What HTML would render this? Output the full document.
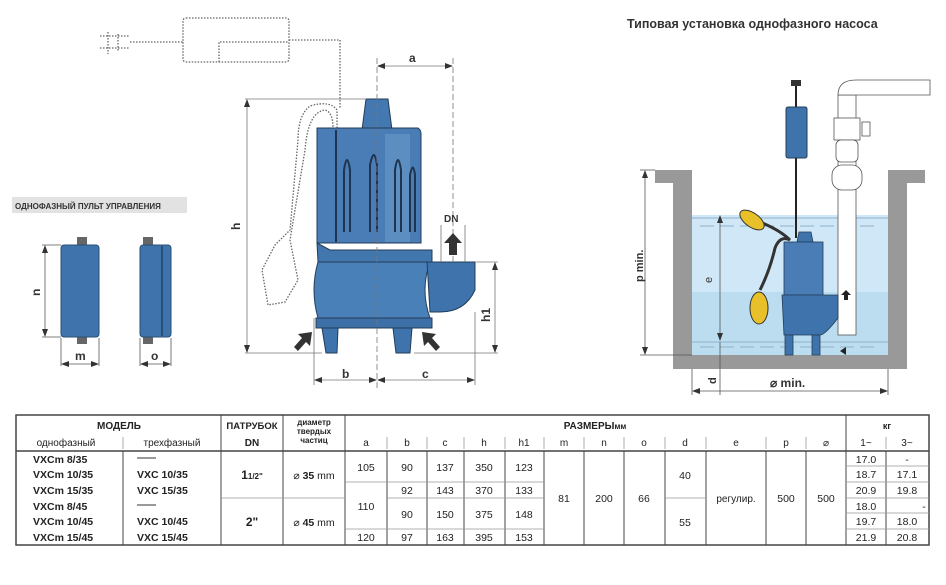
<!DOCTYPE html>
<html><head><meta charset="utf-8">
<style>
html,body{margin:0;padding:0;background:#fff;}
svg{display:block;font-family:"Liberation Sans","Noto Sans CJK SC",sans-serif;}
</style></head>
<body>
<svg width="946" height="585" viewBox="0 0 946 585" xmlns="http://www.w3.org/2000/svg">
<defs>
<marker id="ar" markerWidth="8" markerHeight="8" refX="7" refY="4" orient="auto-start-reverse" markerUnits="userSpaceOnUse"><path d="M0,1 L8,4 L0,7 z" fill="#333"/></marker>
</defs>
<!-- title -->
<text x="627" y="28" font-size="12.5" font-weight="bold" fill="#333">Типовая установка однофазного насоса</text>

<!-- dotted control box & cable -->
<g fill="none" stroke="#666" stroke-width="1.3" stroke-dasharray="1.5,1.5">
<rect x="183" y="18" width="106" height="44" rx="3"/>
<path d="M219 62 V42 H289"/>
<path d="M100 36 h30 M100 48 h30 M108 32 v22 M118 34 v18"/>
<path d="M130 42 H183"/>
<path d="M289 40 H340 V108"/>
<path d="M337 128 V110 Q330 100 310 106 Q298 115 298 140 L290 230 L275 245 L262 270 L268 305 L285 302 L298 280 L290 240 L305 150 Q308 112 325 110 Q333 112 333 128"/>
</g>

<!-- label -->
<rect x="12" y="197" width="175" height="16" fill="#e2e2e2"/>
<text x="15" y="209" font-size="8" font-weight="bold" fill="#333">ОДНОФАЗНЫЙ ПУЛЬТ УПРАВЛЕНИЯ</text>

<!-- control boxes -->
<rect x="77" y="237" width="10" height="8" fill="#666"/>
<rect x="77" y="337" width="10" height="7" fill="#666"/>
<rect x="61" y="245" width="38" height="92" rx="3" fill="#3e74ab" stroke="#2a4f75"/>
<rect x="143" y="237" width="10" height="8" fill="#666"/>
<rect x="143" y="337" width="10" height="7" fill="#666"/>
<rect x="140" y="245" width="31" height="92" rx="3" fill="#3e74ab" stroke="#2a4f75"/>
<line x1="162" y1="246" x2="162" y2="336" stroke="#2a4f75" stroke-width="2"/>
<g stroke="#555" stroke-width="0.8" fill="none">
<line x1="42" y1="245" x2="61" y2="245"/><line x1="42" y1="337" x2="61" y2="337"/>
<line x1="45" y1="246" x2="45" y2="336" marker-start="url(#ar)" marker-end="url(#ar)"/>
<line x1="61" y1="338" x2="61" y2="366"/><line x1="99" y1="338" x2="99" y2="366"/>
<line x1="62" y1="364" x2="98" y2="364" marker-start="url(#ar)" marker-end="url(#ar)"/>
<line x1="140" y1="338" x2="140" y2="366"/><line x1="171" y1="338" x2="171" y2="366"/>
<line x1="141" y1="364" x2="170" y2="364" marker-start="url(#ar)" marker-end="url(#ar)"/>
</g>
<text x="40" y="296" font-size="12" font-weight="bold" transform="rotate(-90 40 296)" fill="#333">n</text>
<text x="75" y="360" font-size="12" font-weight="bold" fill="#333">m</text>
<text x="151" y="360" font-size="12" font-weight="bold" fill="#333">o</text>

<!-- main pump -->
<g stroke="#233c58" stroke-width="1">
<path d="M366 99 H388 L392 130 H362 Z" fill="#4478b0"/>
<path d="M317 128 H418 Q421 130 421 134 V243 H317 Z" fill="#4a7db5"/>
<path d="M317 243 L330 250 H432 V262 H318 Z" fill="#4277ae"/>
<path d="M318 262 H430 Q420 290 430 318 H318 Q310 290 318 262 Z" fill="#4a80b8"/>
<path d="M427 262 H475 V290 Q465 312 440 312 L430 312 Z" fill="#3e74ab"/>
<rect x="316" y="318" width="116" height="10" fill="#3c70a6"/>
<path d="M322 328 H338 L337 353 H326 Z" fill="#3e74ab"/>
<path d="M393 328 H412 L410 353 H396 Z" fill="#3e74ab"/>
</g>
<rect x="385" y="134" width="25" height="108" fill="#6f9fce" opacity="0.5"/>
<g stroke="#1e3450" stroke-width="2" fill="none">
<path d="M344 232 V170 Q347 150 350 170 V232"/>
<path d="M370 232 V165 Q374 145 377 165 V232"/>
<path d="M395 232 V170 Q398 150 401 170 V232"/>
<path d="M410 232 V175 Q413 160 415 175 V232"/>
<line x1="336" y1="130" x2="336" y2="242"/>
</g>
<!-- dims -->
<g stroke="#777" stroke-width="0.8" fill="none">
<line x1="377" y1="58" x2="377" y2="390" stroke-dasharray="6,3"/>
<line x1="453" y1="58" x2="453" y2="262" stroke-dasharray="6,3"/>
<line x1="378" y1="66" x2="452" y2="66" marker-start="url(#ar)" marker-end="url(#ar)"/>
<line x1="245" y1="99" x2="365" y2="99"/><line x1="245" y1="353" x2="322" y2="353"/>
<line x1="247" y1="100" x2="247" y2="352" marker-start="url(#ar)" marker-end="url(#ar)"/>
<line x1="314" y1="318" x2="314" y2="385"/><line x1="475" y1="312" x2="475" y2="385"/>
<line x1="315" y1="380" x2="376" y2="380" marker-start="url(#ar)" marker-end="url(#ar)"/>
<line x1="378" y1="380" x2="474" y2="380" marker-start="url(#ar)" marker-end="url(#ar)"/>
<line x1="476" y1="262" x2="498" y2="262"/><line x1="414" y1="353" x2="498" y2="353"/>
<line x1="495" y1="263" x2="495" y2="352" marker-start="url(#ar)" marker-end="url(#ar)"/>
<line x1="441" y1="225" x2="441" y2="262"/><line x1="465" y1="225" x2="465" y2="262"/>
</g>
<text x="409" y="62" font-size="12" font-weight="bold" fill="#333">a</text>
<text x="240" y="230" font-size="12" font-weight="bold" transform="rotate(-90 240 230)" fill="#333">h</text>
<text x="342" y="378" font-size="12" font-weight="bold" fill="#333">b</text>
<text x="422" y="378" font-size="12" font-weight="bold" fill="#333">c</text>
<text x="490" y="322" font-size="12" font-weight="bold" transform="rotate(-90 490 322)" fill="#333">h1</text>
<text x="444" y="222" font-size="10" font-weight="bold" fill="#333">DN</text>
<path d="M453 233 L462 243 H457 V255 H449 V243 H444 Z" fill="#333"/>
<!-- inlet arrows -->
<path d="M312 332 L310 346 L306 342 L298 351 L294 347 L302 338 L298 334 Z" fill="#333"/>
<path d="M422 332 L424 346 L428 342 L436 351 L440 347 L432 338 L436 334 Z" fill="#333"/>

<!-- right installation -->
<rect x="692" y="215" width="196" height="140" fill="#cfe7f6"/>
<rect x="692" y="292" width="196" height="63" fill="#bcdcef"/>
<g stroke="#8fb2c9" stroke-width="1">
<line x1="692" y1="218" x2="888" y2="218"/><line x1="700" y1="226" x2="880" y2="226" stroke-dasharray="14,6"/>
<line x1="692" y1="342" x2="888" y2="342"/><line x1="700" y1="347" x2="880" y2="347" stroke-dasharray="14,6"/>
</g>
<path d="M655 170 H692 V355 H888 V170 H925 V183 H907 V369 H673 V183 H655 Z" fill="#999"/>
<!-- pipe -->
<g fill="#fff" stroke="#555" stroke-width="0.8">
<rect x="838" y="95" width="18" height="240"/>
<path d="M838 95 Q838 80 856 80 H930 V95 H856 Z"/>
<rect x="834" y="118" width="26" height="22"/>
<rect x="836" y="140" width="22" height="22" rx="5"/>
<rect x="832" y="165" width="30" height="25" rx="10"/>
<rect x="862" y="122" width="8" height="14"/>
</g>
<!-- control box -->
<line x1="796" y1="158" x2="796" y2="238" stroke="#222" stroke-width="2"/>
<line x1="796" y1="85" x2="796" y2="107" stroke="#222" stroke-width="2"/>
<path d="M791 80 h10 v6 h-10z" fill="#333"/>
<rect x="786" y="107" width="21" height="51" rx="2" fill="#3e74ab" stroke="#233c58"/>
<!-- small pump -->
<g stroke="#233c58" stroke-width="0.8">
<path d="M799 232 H811 L813 242 H797 Z" fill="#3e74ab"/>
<rect x="784" y="242" width="39" height="53" fill="#4a7db5"/>
<path d="M782 295 H838 V318 Q825 335 820 335 H784 Z" fill="#3e74ab"/>
<rect x="785" y="335" width="8" height="20" fill="#3e74ab"/>
<rect x="812" y="335" width="8" height="20" fill="#3e74ab"/>
</g>
<path d="M790 240 Q780 235 775 248 Q770 270 760 290" stroke="#333" stroke-width="3" fill="none"/>
<path d="M790 240 Q780 230 760 222" stroke="#333" stroke-width="3" fill="none"/>
<ellipse cx="752" cy="220" rx="14" ry="7" transform="rotate(35 752 220)" fill="#e8c02a" stroke="#333"/>
<ellipse cx="759" cy="308" rx="9" ry="16" fill="#e8c02a" stroke="#333"/>
<path d="M846 290 l5 5 h-3 v5 h-4 v-5 h-3z M846 347 l-6 4 l6 4z" fill="#222"/>
<!-- right dims -->
<g stroke="#555" stroke-width="0.8" fill="none">
<line x1="640" y1="170" x2="655" y2="170"/><line x1="640" y1="355" x2="692" y2="355"/>
<line x1="645" y1="171" x2="645" y2="354" marker-start="url(#ar)" marker-end="url(#ar)"/>
<line x1="720" y1="216" x2="720" y2="340" marker-start="url(#ar)" marker-end="url(#ar)"/>
<line x1="720" y1="342" x2="720" y2="395"/>
<line x1="692" y1="369" x2="692" y2="395"/><line x1="888" y1="369" x2="888" y2="395"/>
<line x1="693" y1="391" x2="887" y2="391" marker-start="url(#ar)" marker-end="url(#ar)"/>
</g>
<text x="643" y="282" font-size="11" font-weight="bold" transform="rotate(-90 643 282)" fill="#333">p min.</text>
<text x="712" y="283" font-size="11" transform="rotate(-90 712 283)" fill="#333">e</text>
<text x="716" y="384" font-size="11" font-weight="bold" transform="rotate(-90 716 384)" fill="#333">d</text>
<text x="770" y="387" font-size="12" font-weight="bold" fill="#333">⌀  min.</text>

<!-- table -->
<g stroke="#444" fill="none">
<rect x="16" y="415" width="913" height="130" stroke-width="1.5"/>
<line x1="16" y1="451" x2="929" y2="451" stroke-width="1.5"/>
<g stroke-width="1">
<line x1="221" y1="415" x2="221" y2="545"/><line x1="283" y1="415" x2="283" y2="545"/>
<line x1="345" y1="415" x2="345" y2="545"/><line x1="846" y1="415" x2="846" y2="545"/>
<line x1="123" y1="451" x2="123" y2="545"/>
<line x1="387" y1="451" x2="387" y2="545"/><line x1="427" y1="451" x2="427" y2="545"/>
<line x1="464" y1="451" x2="464" y2="545"/><line x1="505" y1="451" x2="505" y2="545"/>
<line x1="544" y1="451" x2="544" y2="545"/><line x1="584" y1="451" x2="584" y2="545"/>
<line x1="624" y1="451" x2="624" y2="545"/><line x1="665" y1="451" x2="665" y2="545"/>
<line x1="706" y1="451" x2="706" y2="545"/><line x1="766" y1="451" x2="766" y2="545"/>
<line x1="806" y1="451" x2="806" y2="545"/><line x1="886" y1="451" x2="886" y2="545"/>
</g>
<g stroke-width="0.8" stroke="#999">
<line x1="123" y1="437" x2="123" y2="449"/>
<line x1="387" y1="437" x2="387" y2="449"/><line x1="427" y1="437" x2="427" y2="449"/>
<line x1="464" y1="437" x2="464" y2="449"/><line x1="505" y1="437" x2="505" y2="449"/>
<line x1="544" y1="437" x2="544" y2="449"/><line x1="584" y1="437" x2="584" y2="449"/>
<line x1="624" y1="437" x2="624" y2="449"/><line x1="665" y1="437" x2="665" y2="449"/>
<line x1="706" y1="437" x2="706" y2="449"/><line x1="766" y1="437" x2="766" y2="449"/>
<line x1="806" y1="437" x2="806" y2="449"/><line x1="886" y1="437" x2="886" y2="449"/>
<line x1="221" y1="498" x2="345" y2="498"/>
<line x1="345" y1="482" x2="387" y2="482"/><line x1="345" y1="529" x2="387" y2="529"/>
<line x1="387" y1="482" x2="544" y2="482"/><line x1="387" y1="498" x2="544" y2="498"/><line x1="387" y1="529" x2="544" y2="529"/>
<line x1="665" y1="498" x2="706" y2="498"/>
<line x1="846" y1="466" x2="929" y2="466"/><line x1="846" y1="482" x2="929" y2="482"/>
<line x1="846" y1="498" x2="929" y2="498"/><line x1="846" y1="513" x2="929" y2="513"/>
<line x1="846" y1="529" x2="929" y2="529"/>
</g>
</g>
<g font-size="10" fill="#222" text-anchor="middle">
<text x="119" y="429" font-weight="bold">МОДЕЛЬ</text>
<text x="66" y="446">однофазный</text><text x="172" y="446">трехфазный</text>
<text x="252" y="429" font-weight="bold" font-size="9.5">ПАТРУБОК</text>
<text x="252" y="446" font-weight="bold">DN</text>
<text x="314" y="425" font-weight="bold" font-size="8">диаметр</text>
<text x="314" y="434" font-weight="bold" font-size="8">твердых</text>
<text x="314" y="443" font-weight="bold" font-size="8">частиц</text>
<text x="595" y="429" font-weight="bold">РАЗМЕРЫ<tspan font-size="8">мм</tspan></text>
<text x="887" y="429" font-weight="bold" font-size="9">кг</text>
<text x="366" y="446">a</text><text x="407" y="446">b</text><text x="445" y="446">c</text>
<text x="484" y="446">h</text><text x="524" y="446">h1</text><text x="564" y="446">m</text>
<text x="604" y="446">n</text><text x="644" y="446">o</text><text x="685" y="446">d</text>
<text x="736" y="446">e</text><text x="786" y="446">p</text><text x="826" y="446">⌀</text>
<text x="866" y="446">1~</text><text x="907" y="446">3~</text>
</g>
<g font-size="10.5" fill="#222" font-weight="bold">
<text x="33" y="463">VXCm 8/35</text><text x="33" y="478">VXCm 10/35</text><text x="33" y="494">VXCm 15/35</text>
<text x="33" y="510">VXCm 8/45</text><text x="33" y="525">VXCm 10/45</text><text x="33" y="541">VXCm 15/45</text>
<text x="137" y="478">VXC 10/35</text><text x="137" y="494">VXC 15/35</text>
<text x="137" y="525">VXC 10/45</text><text x="137" y="541">VXC 15/45</text>
</g>
<g stroke="#333" stroke-width="1"><line x1="137" y1="458" x2="156" y2="458"/><line x1="137" y1="505" x2="156" y2="505"/></g>
<g font-size="10.5" fill="#222" text-anchor="middle">
<text x="252" y="479" font-weight="bold" font-size="12">1<tspan font-size="8">1/2"</tspan></text>
<text x="252" y="526" font-weight="bold" font-size="12">2"</text>
<text x="314" y="479">⌀ <tspan font-weight="bold">35</tspan> mm</text>
<text x="314" y="526">⌀ <tspan font-weight="bold">45</tspan> mm</text>
<text x="366" y="471">105</text><text x="366" y="510">110</text><text x="366" y="541">120</text>
<text x="407" y="471">90</text><text x="407" y="494">92</text><text x="407" y="518">90</text><text x="407" y="541">97</text>
<text x="445" y="471">137</text><text x="445" y="494">143</text><text x="445" y="518">150</text><text x="445" y="541">163</text>
<text x="484" y="471">350</text><text x="484" y="494">370</text><text x="484" y="518">375</text><text x="484" y="541">395</text>
<text x="524" y="471">123</text><text x="524" y="494">133</text><text x="524" y="518">148</text><text x="524" y="541">153</text>
<text x="564" y="502">81</text><text x="604" y="502">200</text><text x="644" y="502">66</text>
<text x="685" y="479">40</text><text x="685" y="526">55</text>
<text x="736" y="502" font-size="10">регулир.</text>
<text x="786" y="502">500</text><text x="826" y="502">500</text>
<text x="866" y="463">17.0</text><text x="866" y="478">18.7</text><text x="866" y="494">20.9</text>
<text x="866" y="510">18.0</text><text x="866" y="525">19.7</text><text x="866" y="541">21.9</text>
<text x="907" y="463">-</text><text x="907" y="478">17.1</text><text x="907" y="494">19.8</text>
<text x="924" y="510">-</text><text x="907" y="525">18.0</text><text x="907" y="541">20.8</text>
</g>
</svg>
</body></html>
